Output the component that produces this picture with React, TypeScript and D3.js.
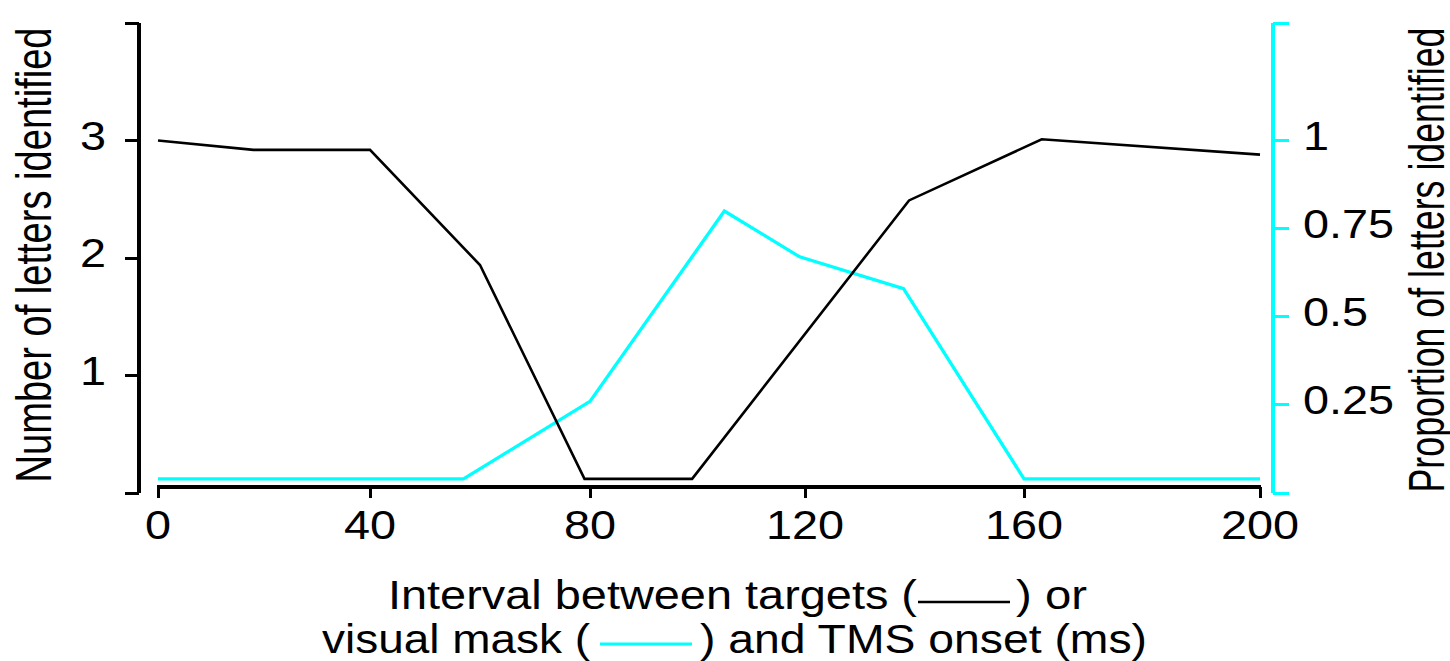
import React from 'react';
import * as d3 from 'd3';

// interval (ms) and number of letters for the two-target curve (black)
const targetMs = [0, 18, 40, 60, 79, 99, 139, 163, 200];
const targetLetters = [3.0, 2.92, 2.92, 1.94, 0.12, 0.12, 2.49, 3.01, 2.88];

// mask / TMS curve (cyan), proportion identified
const maskMs = [0, 57, 80, 105, 119, 138, 160, 200];
const maskProp = [0.04, 0.04, 0.26, 0.8, 0.67, 0.58, 0.04, 0.04];

const xTicks = [0, 40, 80, 120, 160, 200];
const leftTicks = [0, 1, 2, 3, 4];
const leftLabels = [1, 2, 3];
const rightTicks = [0, 0.25, 0.5, 0.75, 1, 4 / 3];
const rightLabels = ['0.25', '0.5', '0.75', '1'];

const FONT = '"Liberation Sans", Arial, sans-serif';
const CYAN = '#00ffff';
const SX = 1.17; // the original text is a bit wide

export default function App() {
  // the picture's x axis is not quite even, so each tick gets its own stop
  const x = d3.scaleLinear().domain(xTicks).range([158, 370, 590, 805, 1024, 1260]);
  const yL = d3.scaleLinear().domain([0, 4]).range([493, 23]);
  const yR = d3.scaleLinear().domain([0, 4 / 3]).range([493, 23]);

  const blackLine = d3.line<number>()
    .x((_, i) => x(targetMs[i]))
    .y(d => yL(d));
  const cyanLine = d3.line<number>()
    .x((_, i) => x(maskMs[i]))
    .y(d => yR(d));

  const axisY = 487;

  return (
    <svg width={1450} height={661} style={{ position: 'absolute', left: 0, top: 0, background: '#fff' }}
      fontFamily={FONT}>
      {/* left axis */}
      <g shapeRendering="crispEdges">
        <line x1={139} x2={139} y1={yL(4)} y2={yL(0)} stroke="#000" strokeWidth={3.5} />
        {leftTicks.map(t => (
          <line key={t} x1={125} x2={139} y1={yL(t)} y2={yL(t)} stroke="#000" strokeWidth={3} />
        ))}
      </g>
      {leftLabels.map(t => (
        <text key={t} transform={`translate(106,${yL(t) + 9}) scale(${SX},1)`} textAnchor="end"
          fontSize={40}>{t}</text>
      ))}

      {/* right axis */}
      <g shapeRendering="crispEdges">
        <line x1={1273} x2={1273} y1={yR(4 / 3)} y2={yR(0)} stroke={CYAN} strokeWidth={4} />
        {rightTicks.map(t => (
          <line key={t} x1={1273} x2={1289} y1={yR(t)} y2={yR(t)} stroke={CYAN} strokeWidth={3} />
        ))}
      </g>
      {rightLabels.map(t => (
        <text key={t} transform={`translate(1303,${yR(+t) + 9}) scale(${SX},1)`} fontSize={40}>{t}</text>
      ))}

      {/* x axis */}
      <g shapeRendering="crispEdges">
        <line x1={x(0) - 1} x2={x(200) + 1} y1={axisY} y2={axisY} stroke="#000" strokeWidth={3.5} />
        {xTicks.map(t => (
          <line key={t} x1={x(t)} x2={x(t)} y1={axisY} y2={axisY + 11} stroke="#000" strokeWidth={3} />
        ))}
      </g>
      {xTicks.map(t => (
        <text key={t} transform={`translate(${x(t)},539) scale(${SX},1)`} textAnchor="middle"
          fontSize={40}>{t}</text>
      ))}

      {/* data */}
      <path d={cyanLine(maskProp) || ''} fill="none" stroke={CYAN} strokeWidth={3.3} strokeLinejoin="miter" />
      <path d={blackLine(targetLetters) || ''} fill="none" stroke="#000" strokeWidth={2.6} />

      {/* axis titles */}
      <text transform={`translate(51,255) scale(${SX},1) rotate(-90)`} textAnchor="middle" fontSize={42}
        textLength={455} lengthAdjust="spacingAndGlyphs">Number of letters identified</text>
      <text transform={`translate(1444,260) scale(${SX},1) rotate(-90)`} textAnchor="middle" fontSize={42}
        textLength={465} lengthAdjust="spacingAndGlyphs">Proportion of letters identified</text>

      {/* x title with line keys */}
      <text x={388} y={609} fontSize={40} textLength={529} lengthAdjust="spacingAndGlyphs">Interval between targets (</text>
      <line x1={918} x2={1010} y1={602} y2={602} stroke="#000" strokeWidth={2.6} />
      <text x={1016} y={609} fontSize={40} textLength={71} lengthAdjust="spacingAndGlyphs">) or</text>

      <text x={322} y={653} fontSize={40} textLength={268} lengthAdjust="spacingAndGlyphs">visual mask (</text>
      <line x1={600} x2={692} y1={644} y2={644} stroke={CYAN} strokeWidth={3} />
      <text x={700} y={653} fontSize={40} textLength={447} lengthAdjust="spacingAndGlyphs">) and TMS onset (ms)</text>
    </svg>
  );
}
